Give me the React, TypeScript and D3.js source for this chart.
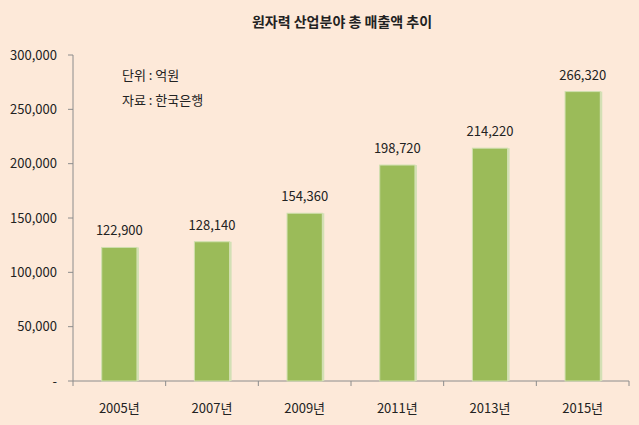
import React from "react";
import * as d3 from "d3";

const years = ["2005년", "2007년", "2009년", "2011년", "2013년", "2015년"];
const sales = [122900, 128140, 154360, 198720, 214220, 266320];
const yTicks = [0, 50000, 100000, 150000, 200000, 250000, 300000];
const title = "원자력 산업분야 총 매출액 추이";
const notes = ["단위 : 억원", "자료 : 한국은행"];

const W = 639;
const H = 425;
const margin = { top: 55, right: 10, bottom: 44, left: 73 };
const font = "'Noto Sans CJK KR', 'Noto Sans', sans-serif";

function App() {
  const innerW = W - margin.left - margin.right;
  const innerH = H - margin.top - margin.bottom;
  const x = d3.scaleBand().domain(years).range([0, innerW]).paddingInner(0.62).paddingOuter(0.31);
  const band = d3.scaleBand().domain(years).range([0, innerW]);
  const y = d3.scaleLinear().domain([0, 300000]).range([innerH, 0]);
  const fmt = d3.format(",");
  const axisColor = "#8c8c8c";

  return (
    <svg width={W} height={H} style={{ position: "absolute", left: 0, top: 0, background: "#fde9d9" }}>
      <rect width={W} height={H} fill="#fde9d9" />
      <text x={342} y={27} textAnchor="middle" fontFamily={font} fontSize={14} fontWeight="bold" fill="#222">
        {title}
      </text>
      <g transform={`translate(${margin.left},${margin.top})`}>
        {/* y axis */}
        <line x1={0} x2={0} y1={0} y2={innerH} stroke={axisColor} />
        {yTicks.map((t) => (
          <g key={t} transform={`translate(0,${y(t)})`}>
            <line x1={-5} x2={0} stroke={axisColor} />
            <text x={-16} dy="0.35em" textAnchor="end" fontFamily={font} fontSize={13} fill="#222">
              {t === 0 ? "-" : fmt(t)}
            </text>
          </g>
        ))}
        {/* x axis */}
        <line x1={0} x2={innerW} y1={innerH} y2={innerH} stroke={axisColor} />
        {[...years.map((d) => band(d) as number), innerW].map((p, i) => (
          <line key={i} x1={p} x2={p} y1={innerH} y2={innerH + 5} stroke={axisColor} />
        ))}
        {years.map((d) => (
          <text
            key={d}
            x={(band(d) as number) + band.bandwidth() / 2}
            y={innerH + 32}
            textAnchor="middle"
            fontFamily={font}
            fontSize={13}
            fill="#222"
          >
            {d}
          </text>
        ))}
        {/* bars */}
        {years.map((d, i) => {
          const bx = x(d) as number;
          const by = y(sales[i]);
          return (
            <g key={d}>
              <rect x={bx} y={by} width={x.bandwidth()} height={innerH - by} fill="#9bbb59" stroke="#cfdfae" strokeWidth={1} />
              <rect x={bx + x.bandwidth()} y={by} width={2} height={innerH - by} fill="#d3e0b5" />
              <text
                x={bx + x.bandwidth() / 2}
                y={by - 12}
                textAnchor="middle"
                fontFamily={font}
                fontSize={13}
                fill="#222"
              >
                {fmt(sales[i])}
              </text>
            </g>
          );
        })}
        {notes.map((n, i) => (
          <text key={n} x={49} y={25 + i * 25} fontFamily={font} fontSize={13} fill="#222">
            {n}
          </text>
        ))}
      </g>
    </svg>
  );
}

export default App;
